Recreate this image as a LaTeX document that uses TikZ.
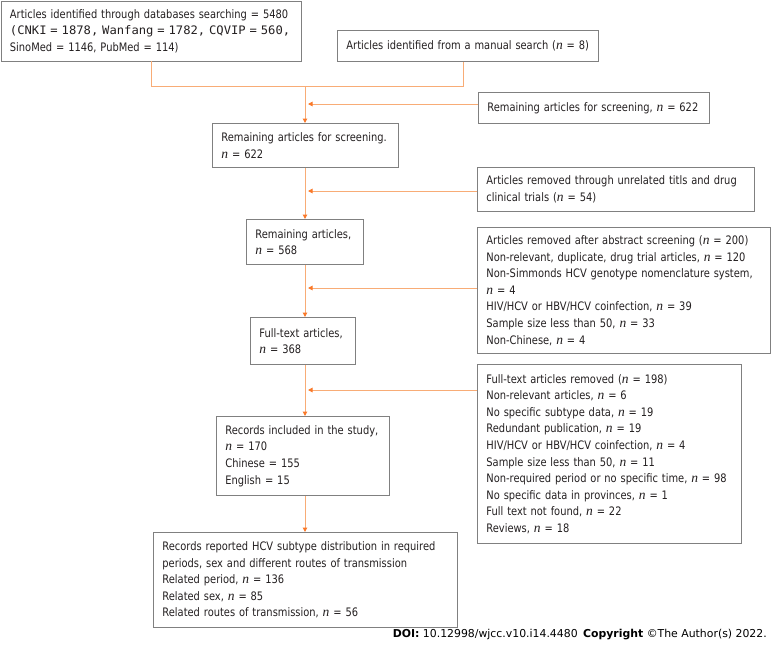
\documentclass[tikz,border=0pt]{standalone}
\usepackage{fontspec}
\setmainfont{DejaVu Sans}[FakeStretch=0.845]
\newfontfamily\monofnt{DejaVu Sans Mono}[FakeStretch=1.04]
\newfontfamily\nfnt{Liberation Serif}
\newfontfamily\doifnt{DejaVu Sans}
\newcommand\nv{{\nfnt\itshape\fontsize{13.5}{16.6}\selectfont n}}
\newcommand\boxfnt{\fontsize{11.7}{16.6}\selectfont\hyphenpenalty 10000\exhyphenpenalty 10000\relax}
\usetikzlibrary{arrows.meta}
\definecolor{boxgray}{RGB}{128,128,128}
\definecolor{lineor}{RGB}{248,172,118}
\definecolor{tipor}{RGB}{250,120,40}
\definecolor{txt}{RGB}{35,31,32}
\tikzset{
  fbox/.style={draw=boxgray, line width=0.9pt, anchor=north west, inner xsep=9pt, inner ysep=0pt,
    align=left, text=txt, font=\boxfnt},
  conn/.style={draw=lineor, line width=1pt},
  arr/.style={conn, -{Triangle[length=4.5pt,width=4.5pt,color=tipor]}},
}
\begin{document}
\begin{tikzpicture}[x=1pt,y=-1pt]
\useasboundingbox (0,0) rectangle (771,646);
% boxes
\node[fbox, text width=282pt, minimum height=60pt] (A) at (0.5,0.5)
  {\mbox{Articles identified through databases searching = 5480}\\
   \mbox{\monofnt (CNKI = 1878, Wanfang = 1782, CQVIP = 560,}\\
   SinoMed = 1146, PubMed = 114)};
\node[fbox, text width=243pt, minimum height=31pt] (B) at (337,30)
  {\mbox{Articles identified from a manual search (\nv{} = 8)}};
\node[fbox, text width=213pt, minimum height=31pt] (S) at (478,92)
  {\mbox{Remaining articles for screening, \nv{} = 622}};
\node[fbox, text width=168pt, minimum height=44pt] (C) at (212,123)
  {\mbox{Remaining articles for screening.}\\ \nv{} = 622};
\node[fbox, text width=259pt, minimum height=44pt] (E) at (477,167)
  {\makebox[258pt][s]{Articles removed through unrelated titls and drug}\\
   clinical trials (\nv{} = 54)};
\node[fbox, text width=99pt, minimum height=45pt] (D) at (246,219)
  {\mbox{Remaining articles,}\\ \nv{} = 568};
\node[fbox, text width=275pt, minimum height=126pt] (F) at (477,227)
  {\mbox{Articles removed after abstract screening (\nv{} = 200)}\\
   \mbox{Non-relevant, duplicate, drug trial articles, \nv{} = 120}\\
   \mbox{Non-Simmonds HCV genotype nomenclature system,}\\
   \nv{} = 4\\
   HIV/HCV or HBV/HCV coinfection, \nv{} = 39\\
   Sample size less than 50, \nv{} = 33\\
   Non-Chinese, \nv{} = 4};
\node[fbox, text width=87pt, minimum height=47pt] (G) at (250,317)
  {\mbox{Full-text articles,}\\ \nv{} = 368};
\node[fbox, text width=246pt, minimum height=179pt] (H) at (477,364)
  {Full-text articles removed (\nv{} = 198)\\
   Non-relevant articles, \nv{} = 6\\
   No specific subtype data, \nv{} = 19\\
   Redundant publication, \nv{} = 19\\
   HIV/HCV or HBV/HCV coinfection, \nv{} = 4\\
   Sample size less than 50, \nv{} = 11\\
   \mbox{Non-required period or no specific time, \nv{} = 98}\\
   No specific data in provinces, \nv{} = 1\\
   Full text not found, \nv{} = 22\\
   Reviews, \nv{} = 18};
\node[fbox, text width=155pt, minimum height=79pt] (I) at (216,416)
  {\mbox{Records included in the study,}\\ \nv{} = 170\\ Chinese = 155\\ English = 15};
\node[fbox, text width=286pt, minimum height=95pt] (J) at (153,532)
  {\makebox[286pt][s]{Records reported HCV subtype distribution in required}\\
   \mbox{periods, sex and different routes of transmission}\\
   Related period, \nv{} = 136\\
   Related sex, \nv{} = 85\\
   Related routes of transmission, \nv{} = 56};
% footer
\node[anchor=base east, inner sep=0pt, text=black] (doi) at (767,637)
  {\resizebox{374pt}{!}{\doifnt\fontsize{11}{13}\selectfont\textbf{DOI:} 10.12998/wjcc.v10.i14.4480\hspace{0.5em}\textbf{Copyright} ©The Author(s) 2022.}};
% connector coordinates
\coordinate (ax) at (305,0);
\coordinate (mL) at (151,86);
\coordinate (mC) at (305,86);
\coordinate (mR) at (463,86);
\coordinate (t1) at (308,104);
\coordinate (t2) at (308,191);
\coordinate (t3) at (308,288);
\coordinate (t4) at (308,390);
% merge of the two sources
\draw[conn] (A.south -| mL) -- (mL) -- (mR) -- (mR |- B.south);
\draw[arr] (mC) -- (C.north -| ax);
% main line
\draw[arr] (C.south -| ax) -- (D.north -| ax);
\draw[arr] (D.south -| ax) -- (G.north -| ax);
\draw[arr] (G.south -| ax) -- (I.north -| ax);
\draw[arr] (I.south -| ax) -- (J.north -| ax);
% side arrows
\draw[arr] (S.west |- t1) -- (t1);
\draw[arr] (E.west |- t2) -- (t2);
\draw[arr] (F.west |- t3) -- (t3);
\draw[arr] (H.west |- t4) -- (t4);
\end{tikzpicture}
\end{document}
